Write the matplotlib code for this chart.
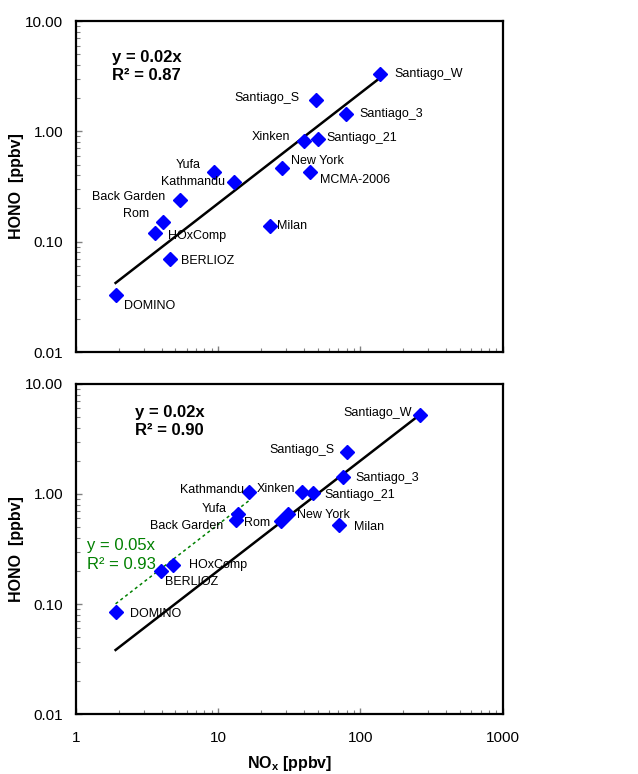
import numpy as np
import matplotlib
matplotlib.use('Agg')
from matplotlib import pyplot as plt
from matplotlib import ticker

plt.rcParams['font.family'] = ['Liberation Sans', 'DejaVu Sans']
plt.rcParams['mathtext.fontset'] = 'custom'
plt.rcParams['mathtext.rm'] = 'Liberation Sans'
plt.rcParams['mathtext.bf'] = 'Liberation Sans:bold'

# upper panel
names_a = ['Santiago_W', 'Santiago_S', 'Santiago_3', 'Xinken', 'Santiago_21',
           'New York', 'MCMA-2006', 'Yufa', 'Kathmandu', 'Back Garden', 'Rom',
           'HOxComp', 'Milan', 'BERLIOZ', 'DOMINO']
nox_a = [137, 48.6, 79.6, 39.8, 49.9, 28.0, 44.3, 9.3, 12.9, 5.4, 4.1, 3.6, 23.0, 4.6, 1.9]
hono_a = [3.3, 1.92, 1.44, 0.82, 0.86, 0.47, 0.43, 0.43, 0.35, 0.24, 0.152, 0.121, 0.139, 0.070, 0.033]
r2_a = 0.87

# lower panel
names_b = ['Santiago_W', 'Santiago_S', 'Santiago_3', 'Kathmandu', 'Xinken',
           'Santiago_21', 'Yufa', 'Back Garden', 'Rom', 'New York', 'Milan',
           'HOxComp', 'BERLIOZ', 'DOMINO']
nox_b = [264, 81, 74.8, 16.5, 38.9, 46.7, 13.8, 13.3, 27.6, 31.0, 71.0, 4.8, 3.95, 1.9]
hono_b = [5.2, 2.39, 1.42, 1.04, 1.04, 1.02, 0.66, 0.58, 0.57, 0.66, 0.52, 0.227, 0.20, 0.084]
r2_b = 0.90
low_nox_b = ['DOMINO', 'BERLIOZ', 'HOxComp', 'Back Garden', 'Yufa', 'Kathmandu']
r2_low = 0.93

# label offsets in pixels (dx right, dy up)
offs_a = {'Santiago_W': (14, 0), 'Santiago_S': (-16, 2), 'Santiago_3': (13, 0),
          'Xinken': (-13, 4), 'Santiago_21': (9, 1), 'New York': (9, 7),
          'MCMA-2006': (10, -8), 'Yufa': (-13, 7), 'Kathmandu': (-9, 0),
          'Back Garden': (-15, 3), 'Rom': (-14, 8), 'HOxComp': (13, -3),
          'Milan': (7, 0), 'BERLIOZ': (11, -2), 'DOMINO': (8, -11)}
offs_b = {'Santiago_W': (-9, 2), 'Santiago_S': (-13, 2), 'Santiago_3': (13, -1),
          'Kathmandu': (-5, 2), 'Xinken': (-7, 3), 'Santiago_21': (11, -2),
          'Yufa': (-11, 5), 'Back Garden': (-13, -6), 'Rom': (-11, -2),
          'New York': (9, -1), 'Milan': (15, -2), 'HOxComp': (16, 0),
          'BERLIOZ': (4, -11), 'DOMINO': (14, -2)}


def origin_fit(x, y):
    x = np.asarray(x)
    y = np.asarray(y)
    return np.sum(x * y) / np.sum(x * x)


def style_axis(ax, xlabels):
    ax.set_xscale('log')
    ax.set_yscale('log')
    ax.set_xlim(1, 1000)
    ax.set_ylim(0.01, 10)
    ax.xaxis.set_major_locator(ticker.FixedLocator([1, 10, 100, 1000]))
    ax.yaxis.set_major_locator(ticker.FixedLocator([0.01, 0.1, 1, 10]))
    ax.xaxis.set_minor_locator(ticker.LogLocator(subs=np.arange(2, 10)))
    ax.yaxis.set_minor_locator(ticker.LogLocator(subs=np.arange(2, 10)))
    ax.xaxis.set_minor_formatter(ticker.NullFormatter())
    ax.yaxis.set_minor_formatter(ticker.NullFormatter())
    ax.yaxis.set_major_formatter(ticker.FuncFormatter(lambda v, p: '%.2f' % v))
    if xlabels:
        ax.xaxis.set_major_formatter(ticker.FuncFormatter(lambda v, p: '%g' % v))
    else:
        ax.xaxis.set_major_formatter(ticker.NullFormatter())
    ax.tick_params(which='both', direction='in', color='#808080', labelsize=11, pad=9)
    ax.tick_params(axis='x', which='both', pad=12)
    ax.tick_params(which='major', length=4, width=1)
    ax.tick_params(which='minor', length=3, width=0.8)
    for s in ax.spines.values():
        s.set_linewidth(1.6)
        s.set_color('black')
    ax.set_ylabel('HONO  [ppbv]', fontsize=11.5, fontweight='bold')
    ax.yaxis.set_label_coords(-0.122, 0.5)


def scatter_labels(ax, names, nox, hono, offs):
    ax.plot(nox, hono, 'D', color='#0000FF', markersize=7, zorder=3)
    for n, x, y in zip(names, nox, hono):
        dx, dy = offs[n]
        ax.annotate(n, (x, y), xytext=(dx * 0.72, dy * 0.72), textcoords='offset points',
                    ha='left' if dx > 0 else 'right', va='center', fontsize=9, zorder=4)


fig = plt.figure(figsize=(6.38, 7.74), dpi=100)
ax1 = fig.add_axes([0.119, 0.5452, 0.669, 0.4276])
ax2 = fig.add_axes([0.119, 0.0775, 0.669, 0.4264])

# top
style_axis(ax1, False)
a = origin_fit(nox_a, hono_a)
xl = np.array([min(nox_a), max(nox_a)])
ax1.plot(xl, a * xl, color='black', lw=1.8, zorder=2)
scatter_labels(ax1, names_a, nox_a, hono_a, offs_a)
ax1.text(0.084, 0.912, 'y = %.2fx\nR² = %.2f' % (a, r2_a), transform=ax1.transAxes,
         fontsize=12, fontweight='bold', va='top', ha='left', linespacing=1.25)

# bottom
style_axis(ax2, True)
b = origin_fit(nox_b, hono_b)
xl = np.array([min(nox_b), max(nox_b)])
ax2.plot(xl, b * xl, color='black', lw=1.8, zorder=2)
lx = [x for n, x in zip(names_b, nox_b) if n in low_nox_b]
ly = [y for n, y in zip(names_b, hono_b) if n in low_nox_b]
c = origin_fit(lx, ly)
xl = np.array([min(lx), max(lx)])
ax2.plot(xl, c * xl, color='#008000', lw=1.1, ls=(0, (2, 2)), zorder=2)
scatter_labels(ax2, names_b, nox_b, hono_b, offs_b)
ax2.text(0.138, 0.936, 'y = %.2fx\nR² = %.2f' % (b, r2_b), transform=ax2.transAxes,
         fontsize=12, fontweight='bold', va='top', ha='left', linespacing=1.25)
ax2.text(0.026, 0.533, 'y = %.2fx\nR² = %.2f' % (c, r2_low), transform=ax2.transAxes,
         fontsize=12, color='#008000', va='top', ha='left', linespacing=1.3)
ax2.set_xlabel(r'NO$_\mathbf{x}$ [ppbv]', fontsize=11.5, fontweight='bold', labelpad=7)

fig.savefig('out.png', dpi=100)
